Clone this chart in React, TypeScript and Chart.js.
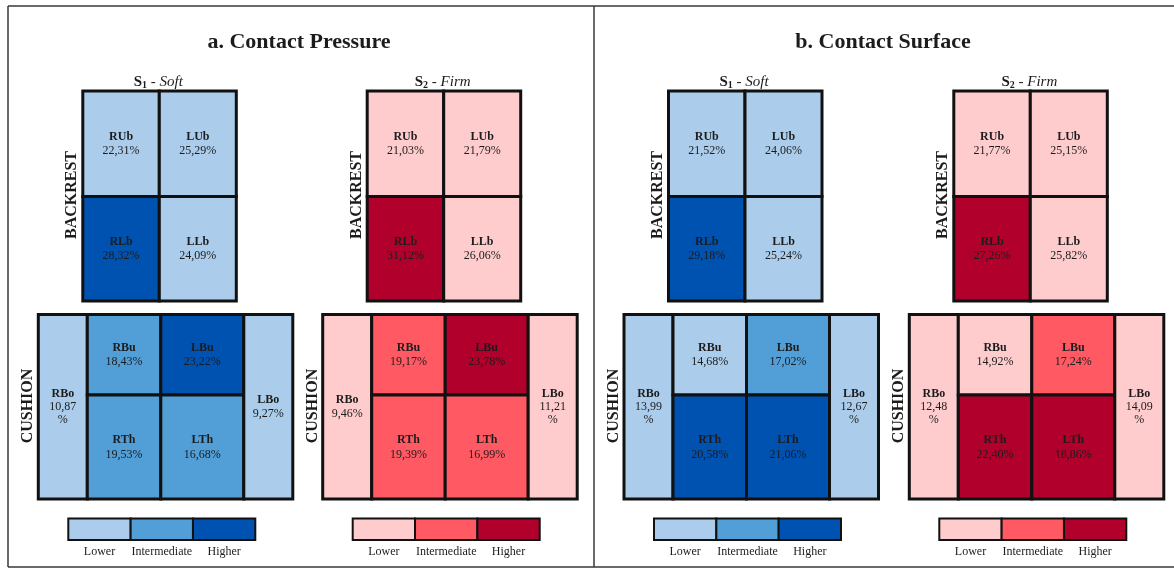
import { useEffect, useRef } from "react";
import { Chart, registerables } from "chart.js";

Chart.register(...registerables);

const W = 1174;
const H = 571;

// ---------- data ----------
const panelTitles = ["a. Contact Pressure", "b. Contact Surface"];
const surfaceNames = ["Soft", "Firm"];
const surfaceIndex = ["1", "2"];
const zoneLabels = ["BACKREST", "CUSHION"];
const backrestRegions = ["RUb", "LUb", "RLb", "LLb"];
const cushionRegions = ["RBo", "RBu", "LBu", "RTh", "LTh", "LBo"];
const levelLabels = ["Lower", "Intermediate", "Higher"];

const pressureSoftBackrest = [22.31, 25.29, 28.32, 24.09];
const pressureSoftBackrestLevel = [0, 0, 2, 0];
const pressureSoftCushion = [10.87, 18.43, 23.22, 19.53, 16.68, 9.27];
const pressureSoftCushionLevel = [0, 1, 2, 1, 1, 0];

const pressureFirmBackrest = [21.03, 21.79, 31.12, 26.06];
const pressureFirmBackrestLevel = [0, 0, 2, 0];
const pressureFirmCushion = [9.46, 19.17, 23.78, 19.39, 16.99, 11.21];
const pressureFirmCushionLevel = [0, 1, 2, 1, 1, 0];

const surfaceSoftBackrest = [21.52, 24.06, 29.18, 25.24];
const surfaceSoftBackrestLevel = [0, 0, 2, 0];
const surfaceSoftCushion = [13.99, 14.68, 17.02, 20.58, 21.06, 12.67];
const surfaceSoftCushionLevel = [0, 0, 1, 2, 2, 0];

const surfaceFirmBackrest = [21.77, 25.15, 27.26, 25.82];
const surfaceFirmBackrestLevel = [0, 0, 2, 0];
const surfaceFirmCushion = [12.48, 14.92, 17.24, 22.4, 18.86, 14.09];
const surfaceFirmCushionLevel = [0, 0, 1, 2, 2, 0];

// ---------- styles / layout ----------
const palettes = [
  ["#abcdeb", "#529fd7", "#0052b1"],
  ["#ffcccd", "#ff5a63", "#b0002b"],
];
const FONT = "'Liberation Serif', 'DejaVu Serif', serif";
const TEXT = "#1c1c1c";

const blockOrigins = [38.3, 322.7, 624, 909.3];
const panelCenters = [299, 883];
const backX = [44.5, 121, 198];
const backY = [91, 196.5, 301];
const cushX = [0, 49, 122.5, 205.5, 254.5];
const cushY = [314.5, 395, 499];
// cell -> [col0, col1, row0, row1] in the cushion grid
const cushCells = [
  [0, 1, 0, 2],
  [1, 2, 0, 1],
  [2, 3, 0, 1],
  [1, 2, 1, 2],
  [2, 3, 1, 2],
  [3, 4, 0, 2],
];
const backCells = [
  [0, 1, 0, 1],
  [1, 2, 0, 1],
  [0, 1, 1, 2],
  [1, 2, 1, 2],
];
const legendX = [30, 217];
const legendY = [518.5, 540];

const blocks = [
  { panel: 0, surface: 0, back: pressureSoftBackrest, backLv: pressureSoftBackrestLevel, cush: pressureSoftCushion, cushLv: pressureSoftCushionLevel },
  { panel: 0, surface: 1, back: pressureFirmBackrest, backLv: pressureFirmBackrestLevel, cush: pressureFirmCushion, cushLv: pressureFirmCushionLevel },
  { panel: 1, surface: 0, back: surfaceSoftBackrest, backLv: surfaceSoftBackrestLevel, cush: surfaceSoftCushion, cushLv: surfaceSoftCushionLevel },
  { panel: 1, surface: 1, back: surfaceFirmBackrest, backLv: surfaceFirmBackrestLevel, cush: surfaceFirmCushion, cushLv: surfaceFirmCushionLevel },
];

const fmt = (v: number) => v.toFixed(2).replace(".", ",") + "%";

const diagramPlugin = {
  id: "diagram",
  afterDraw(chart: any) {
    const ctx: CanvasRenderingContext2D = chart.ctx;
    const xs = chart.scales.x;
    const ys = chart.scales.y;
    const X = (v: number) => xs.getPixelForValue(v);
    const Y = (v: number) => ys.getPixelForValue(v);

    ctx.save();
    // frame
    ctx.strokeStyle = "#3a3a3a";
    ctx.lineWidth = 1.5;
    ctx.beginPath();
    ctx.moveTo(X(8), Y(6));
    ctx.lineTo(X(1174), Y(6));
    ctx.moveTo(X(8), Y(567));
    ctx.lineTo(X(1174), Y(567));
    ctx.moveTo(X(8), Y(6));
    ctx.lineTo(X(8), Y(567));
    ctx.moveTo(X(594), Y(6));
    ctx.lineTo(X(594), Y(567));
    ctx.stroke();

    // titles
    ctx.fillStyle = TEXT;
    ctx.textAlign = "center";
    ctx.textBaseline = "middle";
    ctx.font = `bold 22px ${FONT}`;
    panelTitles.forEach((t, i) => ctx.fillText(t, X(panelCenters[i]), Y(42)));

    const drawCell = (x0: number, x1: number, y0: number, y1: number, color: string, label: string, value: number) => {
      const px0 = X(x0), px1 = X(x1), py0 = Y(y0), py1 = Y(y1);
      ctx.fillStyle = color;
      ctx.fillRect(px0, py0, px1 - px0, py1 - py0);
      ctx.strokeStyle = "#111";
      ctx.lineWidth = 3;
      ctx.strokeRect(px0, py0, px1 - px0, py1 - py0);
      const cx = (px0 + px1) / 2;
      const cy = (py0 + py1) / 2;
      const txt = fmt(value);
      ctx.font = `12px ${FONT}`;
      const wrap = ctx.measureText(txt).width > px1 - px0 - 15;
      ctx.fillStyle = TEXT;
      ctx.textAlign = "center";
      ctx.textBaseline = "middle";
      if (wrap) {
        ctx.font = `bold 12px ${FONT}`;
        ctx.fillText(label, cx, cy - 13);
        ctx.font = `12px ${FONT}`;
        ctx.fillText(txt.slice(0, -1), cx, cy);
        ctx.fillText("%", cx, cy + 13);
      } else {
        ctx.font = `bold 12px ${FONT}`;
        ctx.fillText(label, cx, cy - 7);
        ctx.font = `12px ${FONT}`;
        ctx.fillText(txt, cx, cy + 7.5);
      }
    };

    const vertical = (text: string, x: number, y: number) => {
      ctx.save();
      ctx.translate(X(x), Y(y));
      ctx.rotate(-Math.PI / 2);
      ctx.font = `bold 16px ${FONT}`;
      ctx.fillStyle = TEXT;
      ctx.textAlign = "center";
      ctx.textBaseline = "middle";
      ctx.fillText(text, 0, 0);
      ctx.restore();
    };

    blocks.forEach((b, bi) => {
      const o = blockOrigins[bi];
      const pal = palettes[b.surface];

      // header S1 - Soft
      {
        const cxh = X(o + 120);
        const cyh = Y(82);
        ctx.textBaseline = "middle";
        ctx.textAlign = "left";
        const parts = [
          { t: "S", f: `bold 15px ${FONT}`, dy: 0 },
          { t: surfaceIndex[b.surface], f: `bold 10px ${FONT}`, dy: 3 },
          { t: " - ", f: `15px ${FONT}`, dy: 0 },
          { t: surfaceNames[b.surface], f: `italic 15px ${FONT}`, dy: 0 },
        ];
        let total = 0;
        parts.forEach((p) => {
          ctx.font = p.f;
          total += ctx.measureText(p.t).width;
        });
        let x = cxh - total / 2;
        ctx.fillStyle = TEXT;
        parts.forEach((p) => {
          ctx.font = p.f;
          ctx.fillText(p.t, x, cyh + p.dy);
          x += ctx.measureText(p.t).width;
        });
      }

      // backrest
      backCells.forEach((c, i) => {
        drawCell(o + backX[c[0]], o + backX[c[1]], backY[c[2]], backY[c[3]], pal[b.backLv[i]], backrestRegions[i], b.back[i]);
      });
      vertical(zoneLabels[0], o + 34, 195);

      // cushion
      cushCells.forEach((c, i) => {
        drawCell(o + cushX[c[0]], o + cushX[c[1]], cushY[c[2]], cushY[c[3]], pal[b.cushLv[i]], cushionRegions[i], b.cush[i]);
      });
      vertical(zoneLabels[1], o - 10, 406);

      // legend
      const lw = (legendX[1] - legendX[0]) / 3;
      levelLabels.forEach((lab, k) => {
        const lx0 = X(o + legendX[0] + k * lw);
        const lx1 = X(o + legendX[0] + (k + 1) * lw);
        const ly0 = Y(legendY[0]);
        const ly1 = Y(legendY[1]);
        ctx.fillStyle = pal[k];
        ctx.fillRect(lx0, ly0, lx1 - lx0, ly1 - ly0);
        ctx.strokeStyle = "#111";
        ctx.lineWidth = 2;
        ctx.strokeRect(lx0, ly0, lx1 - lx0, ly1 - ly0);
        ctx.fillStyle = TEXT;
        ctx.font = `12px ${FONT}`;
        ctx.textAlign = "center";
        ctx.textBaseline = "middle";
        ctx.fillText(lab, (lx0 + lx1) / 2, Y(552));
      });
    });

    ctx.restore();
  },
};

export default function App() {
  const ref = useRef<HTMLCanvasElement | null>(null);
  useEffect(() => {
    if (!ref.current) return;
    const chart = new Chart(ref.current, {
      type: "scatter",
      data: { datasets: [] },
      options: {
        animation: false,
        responsive: false,
        devicePixelRatio: 1,
        layout: { padding: 0 },
        plugins: { legend: { display: false }, tooltip: { enabled: false } },
        scales: {
          x: { type: "linear", min: 0, max: W, display: false },
          y: { type: "linear", min: 0, max: H, reverse: true, display: false },
        },
      },
      plugins: [diagramPlugin],
    });
    return () => chart.destroy();
  }, []);
  return (
    <div style={{ position: "fixed", left: 0, top: 0, width: W, height: H, background: "#fff" }}>
      <canvas ref={ref} width={W} height={H} style={{ display: "block", width: W, height: H }} />
    </div>
  );
}
